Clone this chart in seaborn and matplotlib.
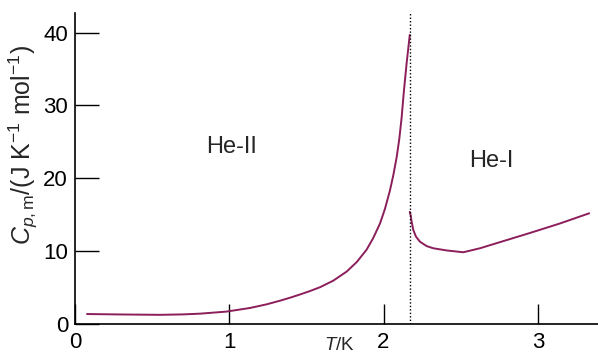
import matplotlib
matplotlib.use("Agg")
import matplotlib.pyplot as plt
import seaborn as sns
import pandas as pd

# He-II branch (below lambda point)
t_he2 = [0.078, 0.30, 0.55, 0.70, 0.81, 0.98, 1.134, 1.242, 1.329, 1.40, 1.458, 1.52, 1.588, 1.674,
         1.761, 1.826, 1.890, 1.933, 1.977, 2.009, 2.041, 2.063, 2.085, 2.102, 2.117, 2.132, 2.150, 2.17]
c_he2 = [1.37, 1.31, 1.26, 1.32, 1.42, 1.70, 2.20, 2.70, 3.20, 3.65, 4.05, 4.50, 5.05, 5.95,
         7.20, 8.50, 10.2, 11.8, 13.8, 15.8, 18.3, 20.4, 22.9, 25.4, 28.3, 32.0, 35.9, 39.7]

# He-I branch (above lambda point)
t_he1 = [2.17, 2.176, 2.182, 2.193, 2.21, 2.236, 2.279, 2.322, 2.409, 2.517, 2.625, 2.733, 2.949, 3.143, 3.333]
c_he1 = [15.4, 14.9, 14.05, 12.9, 12.0, 11.3, 10.7, 10.4, 10.1, 9.85, 10.4, 11.1, 12.5, 13.8, 15.2]

t_lambda = 2.17
xticks = [0, 1, 2, 3]
yticks = [0, 10, 20, 30, 40]
phase_labels = ["He-II", "He-I"]

sns.set_style("ticks")
plt.rcParams["font.family"] = ["Liberation Sans", "DejaVu Sans"]
plt.rcParams["mathtext.fontset"] = "custom"
plt.rcParams["mathtext.rm"] = "Liberation Sans"
plt.rcParams["mathtext.it"] = "Liberation Sans:italic"

fig = plt.figure(figsize=(5.98, 3.55), dpi=100)
ax = fig.add_axes([0.1254, 0.0873, 0.8746, 0.8761])

line_color = "#8B1E5B"
df2 = pd.DataFrame({"T": t_he2, "C": c_he2})
df1 = pd.DataFrame({"T": t_he1, "C": c_he1})
sns.lineplot(data=df2, x="T", y="C", ax=ax, color=line_color, lw=1.4, sort=False)
sns.lineplot(data=df1, x="T", y="C", ax=ax, color=line_color, lw=1.4, sort=False)

ax.axvline(t_lambda, color="black", ls=(0, (1, 1.5)), lw=1.0)

ax.set_xlim(0, 3.39)
ax.set_ylim(0, 42.7)
ax.set_xticks(xticks)
ax.set_yticks(yticks)
ax.tick_params(axis="x", direction="in", length=14.5, width=1.0, pad=5.5, labelsize=16, colors="black")
ax.tick_params(axis="y", direction="in", length=17, width=1.0, pad=5, labelsize=16, colors="black")
for s in ["top", "right"]:
    ax.spines[s].set_visible(False)
for s in ["left", "bottom"]:
    ax.spines[s].set_linewidth(1.2)
    ax.spines[s].set_color("black")

ax.set_xlabel(r"$T$/K", fontsize=13.5)
ax.xaxis.set_label_coords(0.505, -0.041)
ax.xaxis.label.set_va("top")

ax.set_ylabel(r"$C_{p,\mathrm{m}}$/(J K$^{-1}$ mol$^{-1}$)", fontsize=18)
ax.yaxis.label.set(ha="center", va="center", rotation_mode="anchor")
ax.yaxis.set_label_coords(-0.098, 0.575)

ax.text(1.017, 24.3, phase_labels[0], fontsize=17, ha="center", va="center")
ax.text(2.70, 22.4, phase_labels[1], fontsize=17, ha="center", va="center")

fig.savefig("out.png", dpi=100)
